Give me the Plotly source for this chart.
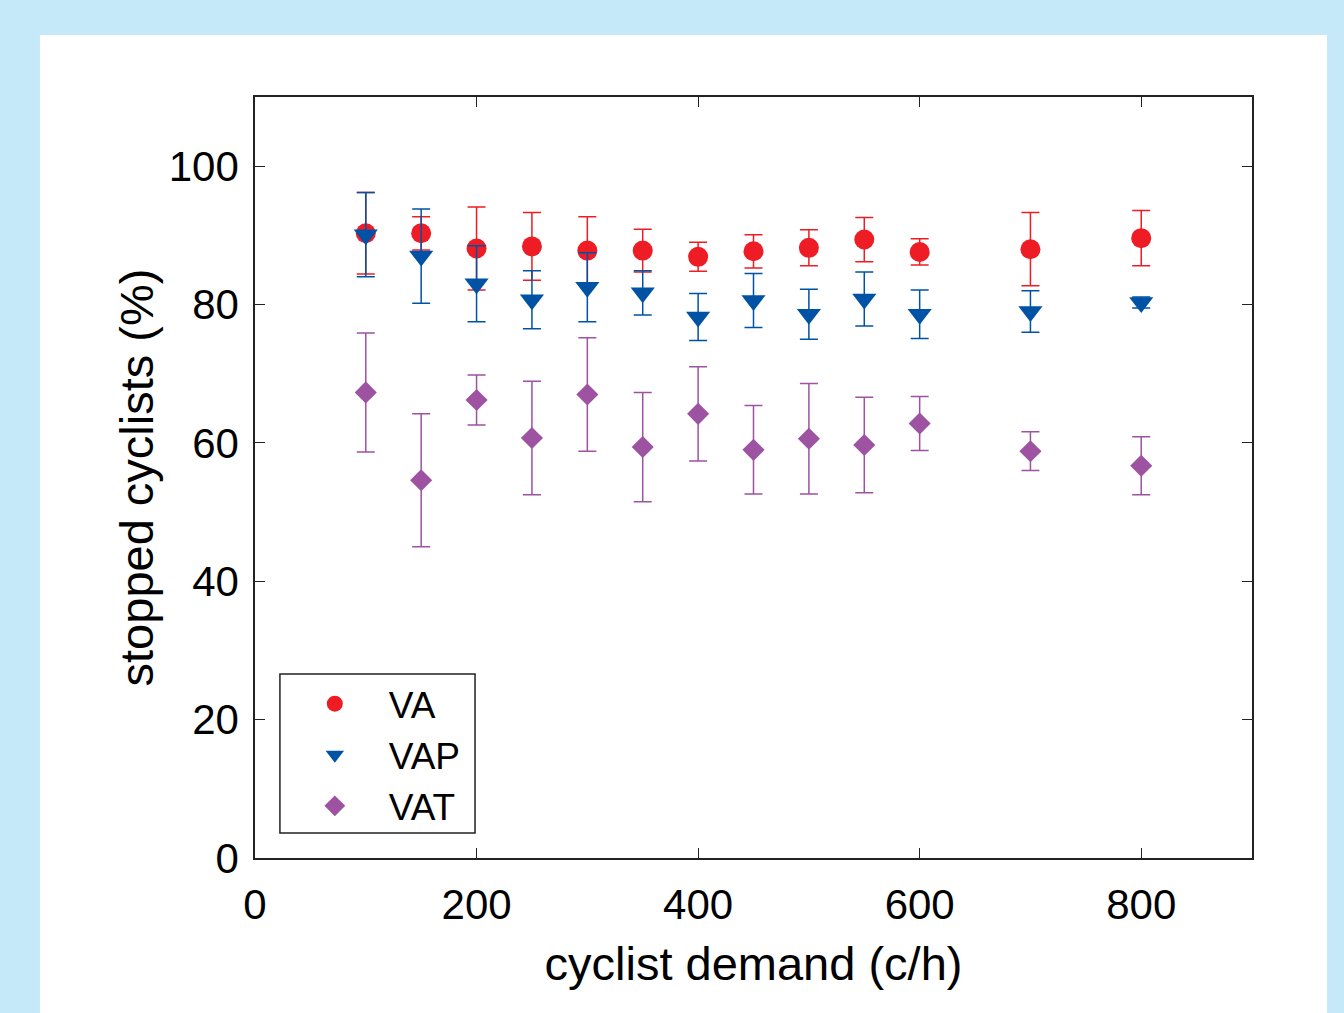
import plotly.graph_objects as go

demand = [100, 150, 200, 250, 300, 350, 400, 450, 500, 550, 600, 700, 800]
va = [90.3, 90.3, 88.1, 88.4, 87.8, 87.8, 86.9, 87.7, 88.2, 89.4, 87.6, 88.0, 89.6]
va_err = [5.9, 2.4, 6.0, 4.9, 4.9, 3.1, 2.1, 2.4, 2.6, 3.2, 1.9, 5.3, 4.0]
vap = [90.1, 87.0, 83.0, 80.7, 82.5, 81.7, 78.2, 80.6, 78.6, 80.8, 78.6, 79.0, 80.3]
vap_err = [6.1, 6.8, 5.5, 4.2, 5.0, 3.2, 3.4, 3.9, 3.6, 3.9, 3.5, 3.0, 0.8]
vat = [67.3, 54.6, 66.2, 60.7, 67.0, 59.4, 64.2, 59.0, 60.6, 59.7, 62.8, 58.8, 56.7]
vat_err = [8.6, 9.6, 3.6, 8.2, 8.2, 7.9, 6.8, 6.4, 8.0, 6.9, 3.9, 2.8, 4.2]

series = [
    ("VA", va, va_err, "#ee1c25", "circle", 20),
    ("VAP", vap, vap_err, "#0052a5", "triangle-down", 21),
    ("VAT", vat, vat_err, "#9e52a2", "diamond", 17),
]

FONT = "Liberation Sans, Arial, Helvetica, sans-serif"
PAD = "\u00a0\u00a0\u00a0\u200a"

fig = go.Figure()
for name, vals, errs, color, sym, size in series:
    fig.add_trace(go.Scatter(
        x=demand, y=vals, name=PAD + name, mode="markers",
        marker=dict(color=color, symbol=sym, size=size, line=dict(width=0)),
        error_y=dict(type="data", array=errs, visible=True, color=color,
                     thickness=1.5, width=9),
    ))

axis_common = dict(
    showline=True, linecolor="#222222", linewidth=1.5, mirror="ticks",
    ticks="inside", ticklen=10, tickwidth=1.2, tickcolor="#222222",
    showgrid=False, zeroline=False,
    tickfont=dict(family=FONT, size=42, color="black"),
)

fig.update_layout(
    width=1344, height=1013,
    margin=dict(l=255, r=92, t=97, b=155),
    paper_bgcolor="#c6e9f9",
    plot_bgcolor="white",
    font=dict(family=FONT, color="black"),
    xaxis=dict(range=[0, 900], tickvals=[0, 200, 400, 600, 800],
               ticklabelstandoff=9,
               title=dict(text="cyclist demand (c/h)", font=dict(family=FONT, size=47), standoff=20),
               **axis_common),
    yaxis=dict(range=[0, 110], tickvals=[0, 20, 40, 60, 80, 100],
               ticklabelstandoff=6,
               title=dict(text="stopped cyclists (%)", font=dict(family=FONT, size=47), standoff=0),
               **axis_common),
    legend=dict(x=0.06, y=0.243, xanchor="left", yanchor="top",
                bgcolor="rgba(0,0,0,0)", borderwidth=0, tracegroupgap=0,
                font=dict(family=FONT, size=37, color="black")),
    shapes=[
        dict(type="rect", xref="paper", yref="paper", x0=-0.2157, x1=1.0752,
             y0=-0.25, y1=1.0815, fillcolor="white", line=dict(width=0), layer="below"),
        dict(type="rect", xref="paper", yref="paper", x0=0.025, x1=0.2207,
             y0=0.033, y1=0.2418, fillcolor="rgba(0,0,0,0)",
             line=dict(color="#222222", width=1.5), layer="above"),
    ],
)

fig.write_html("out.html", config={"displayModeBar": False},
               post_script="document.body.style.margin='0';document.body.style.padding='0';")
